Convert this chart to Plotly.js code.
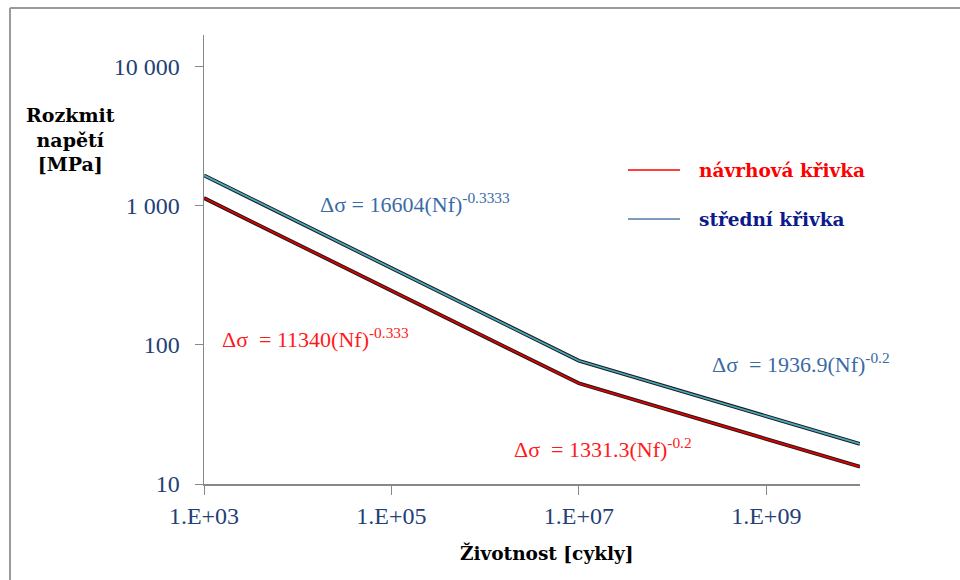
<!DOCTYPE html>
<html>
<head>
<meta charset="utf-8">
<script src="https://cdn.plot.ly/plotly-3.0.1.min.js"></script>
<style>html,body{margin:0;padding:0;background:#fff;}#chart{width:960px;height:580px;}</style>
</head>
<body>
<div id="chart"></div>
<script>
// Data
const cycles = [1e3, 1e7, 1e10];
const designCurve = [1140, 53, 13.3];   // návrhová křivka
const meanCurve = [1660, 77, 19.4];     // střední křivka
const xTickVals = [1e3, 1e5, 1e7, 1e9];
const xTickText = ["1.E+03", "1.E+05", "1.E+07", "1.E+09"];
const yTickVals = [10, 100, 1000, 10000];
const yTickText = ["10", "100", "1 000", "10 000"];
const legendNames = ["návrhová křivka", "střední křivka"];
const equations = [
  "Δσ = 16604(Nf)<sup>-0.3333</sup>",
  "Δσ  = 11340(Nf)<sup>-0.333</sup>",
  "Δσ  = 1331.3(Nf)<sup>-0.2</sup>",
  "Δσ  = 1936.9(Nf)<sup>-0.2</sup>"
];

const L = 204, R = 860, T = 35, B = 484;
const px = x => (x - L) / (R - L);
const py = y => (B - y) / (B - T);

const serif = "Liberation Serif, Times New Roman, serif";
const boldSerif = "DejaVu Serif, serif";
const tickColor = "#233f75";
const blueEq = "#3a6aa5";
const redEq = "#ff1a1a";

const traces = [
  {x: cycles, y: designCurve, mode: "lines", line: {color: "#1a1a1a", width: 3.8}, hoverinfo: "skip", showlegend: false},
  {x: cycles, y: designCurve, mode: "lines", line: {color: "#e00000", width: 1.8}, name: legendNames[0], showlegend: false},
  {x: cycles, y: meanCurve, mode: "lines", line: {color: "#1a1a1a", width: 3.8}, hoverinfo: "skip", showlegend: false},
  {x: cycles, y: meanCurve, mode: "lines", line: {color: "#4aa9c0", width: 1.8}, name: legendNames[1], showlegend: false}
];

const ann = (text, x, y, color, size, family, xanchor) => ({
  text, x: px(x), y: py(y), xref: "paper", yref: "paper", showarrow: false,
  xanchor: xanchor || "left", yanchor: "middle",
  font: {color, size, family}
});

const layout = {
  width: 960, height: 580,
  margin: {l: L, r: 960 - R, t: T, b: 580 - B},
  paper_bgcolor: "#fff", plot_bgcolor: "#fff",
  showlegend: false,
  xaxis: {
    type: "log", range: [3, 10],
    tickvals: xTickVals, ticktext: xTickText,
    ticks: "outside", ticklen: 9, tickcolor: "#888", tickwidth: 1,
    showline: true, linecolor: "#888", linewidth: 1.5,
    showgrid: false, zeroline: false,
    ticklabelstandoff: 1,
    tickfont: {family: serif, size: 24, color: tickColor}
  },
  yaxis: {
    type: "log", range: [1, 4.23],
    tickvals: yTickVals, ticktext: yTickText,
    ticks: "outside", ticklen: 8, tickcolor: "#888", tickwidth: 1,
    showline: true, linecolor: "#888", linewidth: 1.5,
    showgrid: false, zeroline: false,
    ticklabelstandoff: 10,
    tickfont: {family: serif, size: 24, color: tickColor}
  },
  annotations: [
    ann("<b>Rozkmit<br>napětí<br>[MPa]</b>", 70, 139, "#000", 19, boldSerif, "center"),
    ann("<b>Životnost [cykly]</b>", 546, 553, "#000", 18.5, boldSerif, "center"),
    ann("<b>" + legendNames[0] + "</b>", 697, 170, "#ff0000", 18.5, boldSerif),
    ann("<b>" + legendNames[1] + "</b>", 697, 219, "#0d1a8c", 18.5, boldSerif),
    ann(equations[0], 318, 203, blueEq, 22, serif),
    ann(equations[1], 220, 338, redEq, 22, serif),
    ann(equations[2], 512, 448, redEq, 22, serif),
    ann(equations[3], 710, 363, blueEq, 22, serif)
  ],
  shapes: [
    {type: "line", xref: "paper", yref: "paper", x0: px(628), x1: px(680), y0: py(170), y1: py(170), line: {color: "#ff0000", width: 1.5}},
    {type: "line", xref: "paper", yref: "paper", x0: px(628), x1: px(680), y0: py(219), y1: py(219), line: {color: "#7d9cc0", width: 2}},
    {type: "line", xref: "paper", yref: "paper", x0: px(10), x1: px(962), y0: py(8), y1: py(8), line: {color: "#9a9a9a", width: 2}},
    {type: "line", xref: "paper", yref: "paper", x0: px(10), x1: px(10), y0: py(8), y1: py(582), line: {color: "#9a9a9a", width: 2}}
  ]
};

Plotly.newPlot("chart", traces, layout, {displayModeBar: false, staticPlot: true});
</script>
</body>
</html>
